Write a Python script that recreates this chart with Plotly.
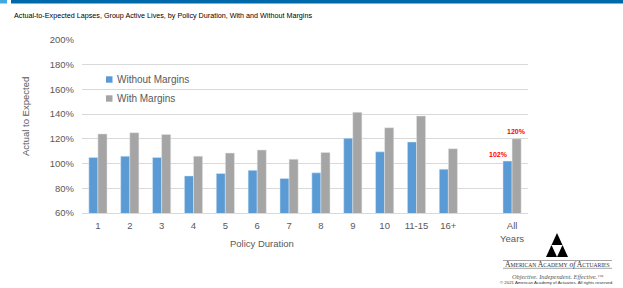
import plotly.graph_objects as go

categories = ["1", "2", "3", "4", "5", "6", "7", "8", "9", "10", "11-15", "16+", " ", "All<br>Years"]
without_margins = [105, 106, 105, 90, 92, 94.5, 88, 92.5, 120.5, 109.5, 117.5, 95.5, None, 102]
with_margins = [124, 125, 123.5, 106, 108.5, 111, 103.5, 109, 141.5, 129, 138.5, 112, None, 120]
y_ticks = [60, 80, 100, 120, 140, 160, 180, 200]
series_names = ["Without Margins", "With Margins"]
series_colors = ["#5B9BD5", "#A5A5A5"]

FONT = "Liberation Sans"
TXT = "#595959"

fig = go.Figure()
fig.add_trace(go.Bar(
    x=categories, y=without_margins, name=series_names[0],
    marker=dict(color=series_colors[0], line=dict(color="#DCE9F5", width=0.5)),
))
fig.add_trace(go.Bar(
    x=categories, y=with_margins, name=series_names[1],
    marker=dict(color=series_colors[1], line=dict(color="#E6E6E6", width=0.5)),
))

# data labels for "All Years"
fig.add_annotation(x=categories[-1], y=without_margins[-1], text=f"<b>{without_margins[-1]:.0f}%</b>",
                   showarrow=False, xshift=-14, yshift=7, font=dict(family=FONT, size=7, color="#FF0000"))
fig.add_annotation(x=categories[-1], y=with_margins[-1], text=f"<b>{with_margins[-1]:.0f}%</b>",
                   showarrow=False, xshift=4, yshift=7, font=dict(family=FONT, size=7, color="#FF0000"))

fig.update_layout(
    width=623, height=288,
    margin=dict(l=82, r=95, t=40, b=75),
    paper_bgcolor="white", plot_bgcolor="white",
    barmode="group", bargap=0.43, bargroupgap=0,
    font=dict(family=FONT, size=9.5, color=TXT),
    showlegend=False,
    xaxis=dict(type="category", categoryorder="array", categoryarray=categories,
               showgrid=False, showline=True, linecolor="#D9D9D9", linewidth=1,
               ticks="", tickfont=dict(size=9.5, color=TXT), ticklabelstandoff=4),
    yaxis=dict(range=[60, 200], tickvals=y_ticks, ticktext=[f"{v}%" for v in y_ticks],
               showgrid=True, gridcolor="#D9D9D9", gridwidth=1, zeroline=False,
               showline=False, ticks="", tickfont=dict(size=9.5, color=TXT), ticklabelstandoff=7),
)

def px(x):
    return (x - 82) / 446
def py(y):
    return (213 - y) / 173

# Legend (drawn inside the plot like the reference)
for i, (nm, col) in enumerate(zip(series_names, series_colors)):
    yy = 79.5 + 19 * i
    fig.add_shape(type="rect", xref="paper", yref="paper", x0=px(106), x1=px(112.5),
                  y0=py(yy + 3.2), y1=py(yy - 3.2), fillcolor=col, line=dict(width=0))
    fig.add_annotation(text=nm, xref="paper", yref="paper", x=px(114.5), y=py(yy),
                       xanchor="left", yanchor="middle", showarrow=False,
                       font=dict(family=FONT, size=10, color=TXT))

# Axis titles
fig.add_annotation(text="Policy Duration", xref="paper", yref="paper", x=px(261.5), y=py(243),
                   showarrow=False, xanchor="center", yanchor="middle",
                   font=dict(family=FONT, size=9.5, color=TXT))
fig.add_annotation(text="Actual to Expected", xref="paper", yref="paper", x=px(25), y=py(116),
                   showarrow=False, textangle=-90, xanchor="center", yanchor="middle",
                   font=dict(family=FONT, size=9.5, color=TXT))

# Title
fig.add_annotation(text="Actual-to-Expected Lapses, Group Active Lives, by Policy Duration, With and Without Margins",
                   xref="paper", yref="paper", x=px(12), y=py(15), xanchor="left", yanchor="middle",
                   showarrow=False, font=dict(family=FONT, size=7.2, color="#000000"))

# Top banner
fig.add_shape(type="rect", xref="paper", yref="paper", x0=px(11), x1=px(640),
              y0=py(3.5), y1=py(-10), fillcolor="#0069AA", line=dict(width=0), layer="above")
fig.add_shape(type="rect", xref="paper", yref="paper", x0=px(-10), x1=px(7),
              y0=py(3.5), y1=py(-10), fillcolor="#41A8E0", line=dict(width=0), layer="above")

# Logo
tri = [((557, 233), (551.5, 245), (562.5, 245)),
       ((551.5, 245), (546, 257), (557, 257)),
       ((562.5, 245), (557, 257), (568, 257))]
for a, b, c in tri:
    path = f"M {px(a[0])},{py(a[1])} L {px(b[0])},{py(b[1])} L {px(c[0])},{py(c[1])} Z"
    fig.add_shape(type="path", xref="paper", yref="paper", path=path, fillcolor="black", line=dict(width=0))
fig.add_shape(type="line", xref="paper", yref="paper", x0=px(503), x1=px(612), y0=py(260.5), y1=py(260.5),
              line=dict(color="#666666", width=0.6))
fig.add_shape(type="line", xref="paper", yref="paper", x0=px(503), x1=px(612), y0=py(268.3), y1=py(268.3),
              line=dict(color="#666666", width=0.6))
fig.add_annotation(text="A<span style='font-size:5.6px'>MERICAN</span> A<span style='font-size:5.6px'>CADEMY</span> <i>of</i> A<span style='font-size:5.6px'>CTUARIES</span>",
                   xref="paper", yref="paper", x=px(557.5), y=py(264.3), showarrow=False,
                   xanchor="center", yanchor="middle",
                   font=dict(family="Liberation Serif", size=7.6, color="#333333"))
fig.add_annotation(text="<i>Objective. Independent. Effective.™</i>",
                   xref="paper", yref="paper", x=px(557.5), y=py(276.5), showarrow=False,
                   xanchor="center", yanchor="middle",
                   font=dict(family="Liberation Serif", size=6.3, color="#555555"))
fig.add_annotation(text="© 2021 American Academy of Actuaries. All rights reserved.",
                   xref="paper", yref="paper", x=px(556), y=py(282), showarrow=False,
                   xanchor="center", yanchor="middle",
                   font=dict(family=FONT, size=4.3, color="#333333"))

fig.write_html("out.html", config={"displayModeBar": False},
               post_script="document.body.style.margin='0px';")
